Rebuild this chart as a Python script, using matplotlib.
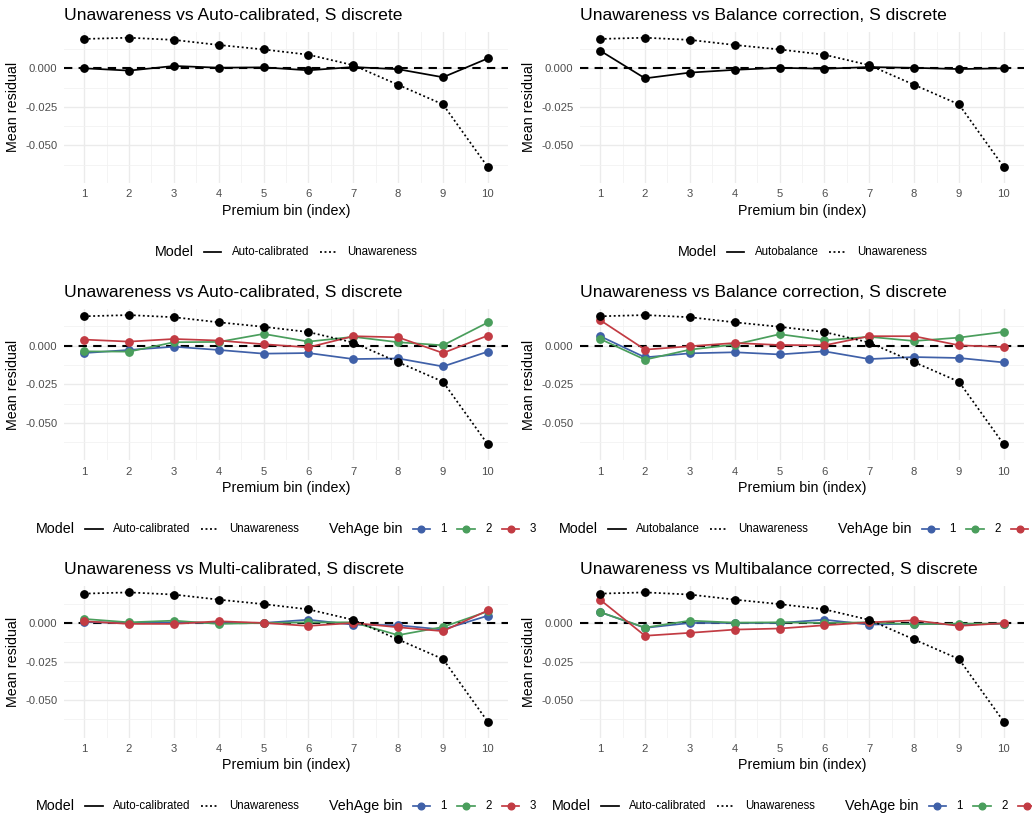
import matplotlib
matplotlib.use("Agg")
import matplotlib.pyplot as plt
from matplotlib.lines import Line2D
from matplotlib.offsetbox import AnchoredOffsetbox, DrawingArea, HPacker, TextArea

plt.rcParams['font.family'] = ['Liberation Sans', 'DejaVu Sans']

# premium bins
bins = [1, 2, 3, 4, 5, 6, 7, 8, 9, 10]

# unaware model residuals (same in every panel)
unaware = [0.0190, 0.0198, 0.0184, 0.0151, 0.0122, 0.0088, 0.0020, -0.0107, -0.0234, -0.0640]

# row 1: aggregate residuals
autocal = [0.0000, -0.0015, 0.0015, 0.0004, 0.0006, -0.0013, 0.0008, -0.0006, -0.0058, 0.0064]
autobal = [0.0114, -0.0065, -0.0028, -0.0010, 0.0003, -0.0003, 0.0008, 0.0003, -0.0005, 0.0000]

# row 2 left: auto-calibrated by VehAge bin
autocal_veh1 = [-0.0048, -0.0028, -0.0007, -0.0028, -0.0052, -0.0048, -0.0087, -0.0083, -0.0135, -0.0039]
autocal_veh2 = [-0.0037, -0.0039, 0.0022, 0.0024, 0.0076, 0.0026, 0.0057, 0.0022, 0.0002, 0.0150]
autocal_veh3 = [0.0039, 0.0026, 0.0043, 0.0033, 0.0009, -0.0011, 0.0061, 0.0054, -0.0048, 0.0065]

# row 2 right: balance correction by VehAge bin
autobal_veh1 = [0.0061, -0.0076, -0.0050, -0.0043, -0.0057, -0.0037, -0.0087, -0.0074, -0.0080, -0.0109]
autobal_veh2 = [0.0043, -0.0091, -0.0026, 0.0007, 0.0074, 0.0035, 0.0057, 0.0030, 0.0052, 0.0089]
autobal_veh3 = [0.0165, -0.0026, -0.0004, 0.0017, 0.0004, 0.0002, 0.0061, 0.0061, 0.0002, -0.0009]

# row 3 left: multi-calibrated by VehAge bin
multical_veh1 = [0.0006, 0.0000, 0.0004, 0.0000, 0.0000, 0.0021, -0.0011, -0.0015, -0.0043, 0.0047]
multical_veh2 = [0.0026, 0.0004, 0.0015, -0.0006, 0.0000, 0.0004, 0.0004, -0.0079, -0.0026, 0.0075]
multical_veh3 = [0.0011, -0.0006, -0.0006, 0.0011, 0.0000, -0.0019, 0.0000, -0.0028, -0.0053, 0.0081]

# row 3 right: multibalance corrected by VehAge bin
multibal_veh1 = [0.0070, -0.0032, 0.0000, 0.0000, 0.0000, 0.0021, -0.0011, -0.0004, -0.0010, -0.0004]
multibal_veh2 = [0.0070, -0.0030, 0.0015, 0.0002, 0.0004, 0.0000, 0.0004, -0.0009, -0.0004, -0.0004]
multibal_veh3 = [0.0150, -0.0083, -0.0064, -0.0043, -0.0036, -0.0015, 0.0004, 0.0017, -0.0019, -0.0002]

veh_labels = ['1', '2', '3']
veh_colors = ['#3F60A8', '#4A9E5C', '#C23B43']

panels = [
    ('Unawareness vs Auto-calibrated, S discrete', 'Auto-calibrated', [autocal], False),
    ('Unawareness vs Balance correction, S discrete', 'Autobalance', [autobal], False),
    ('Unawareness vs Auto-calibrated, S discrete', 'Auto-calibrated',
     [autocal_veh1, autocal_veh2, autocal_veh3], True),
    ('Unawareness vs Balance correction, S discrete', 'Autobalance',
     [autobal_veh1, autobal_veh2, autobal_veh3], True),
    ('Unawareness vs Multi-calibrated, S discrete', 'Auto-calibrated',
     [multical_veh1, multical_veh2, multical_veh3], True),
    ('Unawareness vs Multibalance corrected, S discrete', 'Auto-calibrated',
     [multibal_veh1, multibal_veh2, multibal_veh3], True),
]

W, H = 1032, 832
CELL_W, CELL_H = W / 2, H / 3
LW = 1.25
MS = 5.3
DOT = (0, (1.1, 1.5))
TXT = '#4D4D4D'

fig = plt.figure(figsize=(W / 100, H / 100), dpi=100)


def key_box(color, ls, marker):
    da = DrawingArea(12.5, 8, 0, 0)
    da.add_artist(Line2D([0, 12.5], [4, 4], color=color, lw=LW, ls=ls))
    if marker:
        da.add_artist(Line2D([6.25], [4], marker='o', ms=MS - 0.5, color=color, ls='none'))
    return da


def legend_group(title, entries):
    kids = [TextArea(title, textprops=dict(fontsize=10.3, color='black'))]
    for lab, color, ls, marker in entries:
        kids.append(HPacker(children=[key_box(color, ls, marker),
                                      TextArea(lab, textprops=dict(fontsize=8.3, color='black'))],
                            sep=7.5, align='center'))
    return HPacker(children=kids, sep=7.5, align='center')


for i, (title, model_name, series, by_veh) in enumerate(panels):
    row, col = divmod(i, 2)
    x0 = col * CELL_W + 64
    top = row * CELL_H + 31.7
    bot = row * CELL_H + 183
    ax = fig.add_axes([x0 / W, 1 - bot / H, 444 / W, (bot - top) / H])

    ax.axhline(0, color='black', lw=1.5, ls=(0, (4, 3)), zorder=1)
    ax.plot(bins, unaware, color='black', lw=LW, ls=DOT, marker='o', ms=MS, zorder=3)
    if by_veh:
        for vals, c in zip(series, veh_colors):
            ax.plot(bins, vals, color=c, lw=LW, marker='o', ms=MS, zorder=2)
    else:
        ax.plot(bins, series[0], color='black', lw=LW, marker='o', ms=MS, zorder=2)

    ax.set_xlim(0.55, 10.45)
    ax.set_ylim(-0.0743, 0.0237)
    ax.set_xticks(bins)
    ax.set_xticks([b + 0.5 for b in bins[:-1]], minor=True)
    ax.set_yticks([-0.05, -0.025, 0.0])
    ax.set_yticklabels(['-0.050', '-0.025', '0.000'])
    ax.set_yticks([-0.0625, -0.0375, -0.0125, 0.0125], minor=True)
    ax.grid(which='major', color='#EBEBEB', lw=1.0, zorder=0)
    ax.grid(which='minor', color='#F2F2F2', lw=0.6, zorder=0)
    ax.set_axisbelow(True)
    for s in ax.spines.values():
        s.set_visible(False)
    ax.tick_params(which='both', length=0)
    ax.tick_params(axis='x', pad=4.5, labelsize=8.1, labelcolor=TXT)
    ax.tick_params(axis='y', pad=4.8, labelsize=8.1, labelcolor=TXT)

    ax.text(0, 1.11, title, transform=ax.transAxes, fontsize=12.6, ha='left', va='center')
    ax.set_xlabel('Premium bin (index)', fontsize=10.3, va='center')
    ax.xaxis.set_label_coords(0.5, -27.7 / (bot - top))
    ax.set_ylabel('Mean residual', fontsize=10.3, va='center')
    ax.yaxis.set_label_coords(-51 / 444, 0.5)

    groups = [legend_group('Model', [(model_name, 'black', '-', False),
                                      ('Unawareness', 'black', DOT, False)])]
    if by_veh:
        groups.append(legend_group('VehAge bin', [(lab, c, '-', True)
                                                  for lab, c in zip(veh_labels, veh_colors)]))
    box = HPacker(children=groups, sep=21.6, align='center')
    leg_y = row * CELL_H + 251.7
    anchored = AnchoredOffsetbox(loc='center', child=box, pad=0, borderpad=0, frameon=False,
                                 bbox_to_anchor=((x0 + 222) / W, 1 - leg_y / H),
                                 bbox_transform=fig.transFigure)
    fig.add_artist(anchored)

fig.savefig('out.png', dpi=100, facecolor='white')
